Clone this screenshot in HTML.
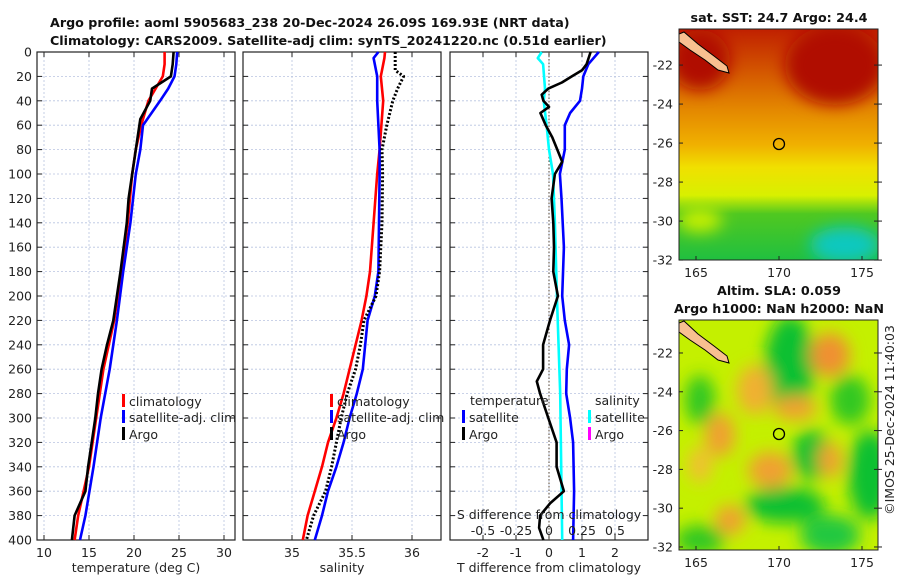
<!DOCTYPE html>
<html><head><meta charset="utf-8"><style>
html,body{margin:0;padding:0;background:#fff;}
svg{display:block;font-family:"DejaVu Sans","Liberation Sans",sans-serif;}
.t{font-size:12.5px;fill:#222;}
.b{font-size:12.7px;font-weight:bold;fill:#111;}
</style></head><body>
<svg id="fig" width="900" height="580" viewBox="0 0 900 580" xmlns="http://www.w3.org/2000/svg">
<defs>
<filter id="blur" x="-20%" y="-20%" width="140%" height="140%"><feGaussianBlur stdDeviation="8"/></filter>
<linearGradient id="sstg" x1="0" y1="0" x2="0" y2="1">
<stop offset="0" stop-color="#c02000"/><stop offset="0.15" stop-color="#d04c00"/><stop offset="0.35" stop-color="#e48800"/>
<stop offset="0.5" stop-color="#f0b000"/><stop offset="0.6" stop-color="#f0e000"/><stop offset="0.72" stop-color="#d8f000"/><stop offset="0.8" stop-color="#50c820"/><stop offset="1" stop-color="#20c040"/>
</linearGradient>
<clipPath id="c1"><rect x="679" y="29" width="199" height="231"/></clipPath>
<clipPath id="c2"><rect x="679" y="320" width="199" height="230"/></clipPath>
</defs>
<text class="b" x="50" y="27">Argo profile: aoml 5905683_238 20-Dec-2024 26.09S 169.93E (NRT data)</text>
<text class="b" x="50" y="45">Climatology: CARS2009. Satellite-adj clim: synTS_20241220.nc (0.51d earlier)</text>
<g id="panels"></g>
<g id="maps">
<g clip-path="url(#c1)">
<rect x="679" y="29" width="199" height="231" fill="url(#sstg)"/>
<g filter="url(#blur)">
<ellipse cx="835" cy="65" rx="50" ry="40" fill="#b00c00"/>
<ellipse cx="700" cy="60" rx="30" ry="30" fill="#b00c00"/>
<ellipse cx="845" cy="245" rx="35" ry="18" fill="#10c8c0"/>
<ellipse cx="700" cy="220" rx="22" ry="12" fill="#c8f000"/>
</g>
<polygon points="679,34 684,32 698,44 714,56 727,66 729,73 718,70 705,60 690,50 679,42" fill="#f8c090" stroke="#000" stroke-width="1"/>
<circle cx="779" cy="144" r="5.5" fill="none" stroke="#000" stroke-width="1.3"/>
</g>
<g clip-path="url(#c2)">
<rect x="679" y="320" width="199" height="230" fill="#c4f000"/>
<g filter="url(#blur)">
<ellipse cx="790" cy="365" rx="25" ry="50" fill="#10c030"/>
<ellipse cx="812" cy="455" rx="20" ry="25" fill="#10c030"/>
<ellipse cx="785" cy="505" rx="40" ry="18" fill="#10c030"/>
<ellipse cx="870" cy="475" rx="22" ry="45" fill="#10c030"/>
<ellipse cx="830" cy="535" rx="30" ry="20" fill="#20c840"/>
<ellipse cx="850" cy="400" rx="20" ry="25" fill="#30c820"/>
<ellipse cx="700" cy="400" rx="15" ry="25" fill="#30c820"/>
<ellipse cx="700" cy="540" rx="25" ry="15" fill="#30c820"/>
<ellipse cx="830" cy="355" rx="20" ry="22" fill="#f09030"/>
<ellipse cx="720" cy="435" rx="15" ry="22" fill="#f0a030"/>
<ellipse cx="755" cy="390" rx="18" ry="25" fill="#f0b030"/>
<ellipse cx="795" cy="408" rx="22" ry="12" fill="#f0a030"/>
<ellipse cx="770" cy="470" rx="22" ry="18" fill="#f0a030"/>
<ellipse cx="830" cy="460" rx="12" ry="18" fill="#f0a030"/>
<ellipse cx="730" cy="520" rx="15" ry="15" fill="#f0a030"/>
<ellipse cx="700" cy="465" rx="12" ry="18" fill="#f0c030"/>
</g>
<polygon points="679,323 684,321 698,334 714,346 727,356 729,363 718,360 705,350 690,340 679,332" fill="#f8c090" stroke="#000" stroke-width="1"/>
<circle cx="779" cy="434" r="5.5" fill="none" stroke="#000" stroke-width="1.3"/>
</g>
<rect x="679" y="29" width="199" height="231" fill="none" stroke="#222" stroke-width="1"/>
<rect x="679" y="320" width="199" height="230" fill="none" stroke="#222" stroke-width="1"/>
<text class="b" x="779" y="22" text-anchor="middle">sat. SST: 24.7 Argo: 24.4</text>
<text class="b" x="779" y="295" text-anchor="middle">Altim. SLA: 0.059</text>
<text class="b" x="779" y="313" text-anchor="middle">Argo h1000: NaN h2000: NaN</text>
<text class="t" transform="translate(894,420) rotate(-90)" text-anchor="middle">©IMOS 25-Dec-2024 11:40:03</text>
<g id="mapticks"></g>
</g>
</svg>
<script>
// ---- data ----
const depthT = [0,10,20,30,40,55,80,100,120,140,180,220,240,260,280,300,320,340,360,370,380,400];
const tempArgo = [24.4,24.3,24.1,22.0,21.8,20.7,20.2,19.8,19.4,19.2,18.5,17.7,17.0,16.4,16.0,15.7,15.3,14.9,14.6,14.0,13.4,13.1];
const depthC = [0,10,20,30,40,60,80,100,140,180,220,260,300,340,380,400];
const tempClim = [23.4,23.4,23.2,22.4,21.6,20.8,20.2,19.8,19.3,18.6,17.8,16.6,15.8,15.0,13.8,13.4];
const tempSat = [24.8,24.7,24.5,23.8,22.9,21.0,20.7,20.2,19.6,18.8,18.1,17.3,16.3,15.5,14.6,14.0];
const depthS = [0,5,20,40,60,80,100,140,180,200,220,240,260,280,300,320,340,360,380,400];
const salClim = [35.775,35.77,35.74,35.76,35.745,35.73,35.71,35.68,35.65,35.62,35.58,35.53,35.48,35.43,35.37,35.30,35.25,35.19,35.13,35.09];
const salSat = [35.72,35.68,35.71,35.71,35.72,35.73,35.73,35.725,35.72,35.69,35.63,35.61,35.59,35.54,35.48,35.43,35.37,35.30,35.25,35.19];
const depthSA = [0,15,20,30,40,60,80,100,140,180,200,220,240,260,280,300,320,340,360,380,400];
const salArgo = [35.86,35.86,35.93,35.88,35.84,35.79,35.75,35.755,35.75,35.73,35.70,35.60,35.57,35.53,35.46,35.41,35.37,35.33,35.28,35.18,35.12];
const depthD = [0,5,10,15,20,25,30,35,40,45,50,60,70,80,90,100,120,140,160,180,200,220,240,260,270,280,300,320,340,360,370,380,390,400];
const dTArgo = [1.26,1.2,1.14,1.0,0.69,0.39,-0.02,-0.22,-0.17,0.0,-0.26,-0.1,0.1,0.25,0.4,0.18,0.08,0.13,0.15,0.13,0.27,0.03,-0.18,-0.18,-0.37,-0.27,-0.02,0.23,0.23,0.45,0.03,-0.27,-0.3,-0.17];
const depthD2 = [0,10,20,30,40,50,60,80,100,120,160,200,220,240,260,280,300,320,360,400];
const dTSat = [1.51,1.19,1.04,1.0,0.94,0.64,0.48,0.48,0.33,0.38,0.45,0.40,0.48,0.61,0.54,0.52,0.64,0.73,0.76,0.73];
const depthD3 = [0,5,10,30,40,60,80,100,140,200,280,400];
const dSSat = [-0.055,-0.085,-0.045,-0.03,-0.04,-0.018,0.0,0.03,0.045,0.06,0.085,0.10];
const depthTicks = [0,20,40,60,80,100,120,140,160,180,200,220,240,260,280,300,320,340,360,380,400];
const tempTicks = [10,15,20,25,30];
const salTicks = [35,35.5,36];
const salTickLabels = ["35","35.5","36"];
const dTTicks = [-2,-1,0,1,2];
const dSTicks = [-0.5,-0.25,0,0.25,0.5];
const dSTickLabels = ["-0.5","-0.25","0","0.25","0.5"];
const latTicks = [-22,-24,-26,-28,-30,-32];
const lonTicks = [165,170,175];

// ---- scales ----
const NS="http://www.w3.org/2000/svg";
const top0=52, bot0=540;
const yD = d => top0 + (bot0-top0)*d/400;
const xT = t => 44 + 9*(t-10);
const xS = s => 292 + 120*(s-35);
const xDT = v => 549 + 33*v;
const xDS = v => 549 + 132*v;
const g = document.getElementById('panels');
function el(tag, attrs, parent){const e=document.createElementNS(NS,tag);for(const k in attrs)e.setAttribute(k,attrs[k]);(parent||g).appendChild(e);return e;}

function panel(x0, name, xt, xs, xlabels, xtitle, leftLabels){
  const p = el('g',{});
  
  
  const w=198;
  depthTicks.forEach(d=>{ if(d>0&&d<400) el('line',{x1:x0,x2:x0+w,y1:yD(d),y2:yD(d),stroke:'#b8c4e0','stroke-width':0.8,'stroke-dasharray':'2,2'},p); });
  xt.forEach(v=>{const x=xs(v); if(x>x0+1&&x<x0+w-1) el('line',{x1:x,x2:x,y1:top0,y2:bot0,stroke:'#b8c4e0','stroke-width':0.8,'stroke-dasharray':'2,2'},p);});
  depthTicks.forEach(d=>{
    el('line',{x1:x0,x2:x0+5,y1:yD(d),y2:yD(d),stroke:'#222'},p);
    el('line',{x1:x0+w-5,x2:x0+w,y1:yD(d),y2:yD(d),stroke:'#222'},p);
    if(leftLabels){const t=el('text',{x:x0-5,y:yD(d)+4.5,'text-anchor':'end','class':'t'},p);t.textContent=d;
      
      }
  });
  xt.forEach((v,i)=>{const x=xs(v);
    el('line',{x1:x,x2:x,y1:bot0,y2:bot0-5,stroke:'#222'},p);
    el('line',{x1:x,x2:x,y1:top0,y2:top0+5,stroke:'#222'},p);
    const t=el('text',{x:x,y:bot0+17,'text-anchor':'middle','class':'t'},p);t.textContent=xlabels[i];
    
    
  });
  el('rect',{x:x0,y:top0,width:w,height:bot0-top0,fill:'none',stroke:'#222','stroke-width':1.2},p);
  const tt=el('text',{x:x0+w/2,y:bot0+32,'text-anchor':'middle','class':'t'},p);tt.textContent=xtitle;
  
  
  return p;
}
function line(p, ds, vs, xs, color, name, dash){
  const pts = ds.map((d,i)=>xs(vs[i]).toFixed(1)+','+yD(d).toFixed(1)).join(' ');
  const l=el('polyline',{points:pts,fill:'none',stroke:color,'stroke-width':dash?3:2.6,'stroke-linejoin':'round'},p);
  if(dash) l.setAttribute('stroke-dasharray',dash);
  
  
}
function legend(p, x, y, color, label, name){
  el('rect',{x:x,y:y-10,width:3,height:13,fill:color},p);
  const t=el('text',{x:x+7,y:y+2,'class':'t'},p);t.textContent=label;
  
  
}

const p1=panel(37,'temperature-panel',tempTicks,xT,tempTicks.map(String),'temperature (deg C)',true);
line(p1,depthC,tempClim,xT,'#ff0000','temp-climatology-line');
line(p1,depthC,tempSat,xT,'#0000ff','temp-satellite-line');
line(p1,depthT,tempArgo,xT,'#000000','temp-argo-line');
legend(p1,122,404,'#ff0000','climatology','legend-climatology');
legend(p1,122,420,'#0000ff','satellite-adj. clim','legend-satellite');
legend(p1,122,437,'#000000','Argo','legend-argo');

const p2=panel(243,'salinity-panel',salTicks,xS,salTickLabels,'salinity',false);
line(p2,depthS,salClim,xS,'#ff0000','sal-climatology-line');
line(p2,depthS,salSat,xS,'#0000ff','sal-satellite-line');
line(p2,depthSA,salArgo,xS,'#000000','sal-argo-line','2,2');
legend(p2,330,404,'#ff0000','climatology','legend-climatology-2');
legend(p2,330,420,'#0000ff','satellite-adj. clim','legend-satellite-2');
legend(p2,330,437,'#000000','Argo','legend-argo-2');

const p3=panel(450,'difference-panel',dTTicks,xDT,dTTicks.map(String),'T difference from climatology',false);
el('line',{x1:xDT(0),x2:xDT(0),y1:top0,y2:bot0,stroke:'#554433','stroke-width':1,'stroke-dasharray':'1.5,2'},p3);
line(p3,depthD3,dSSat,xDS,'#00ffff','sdiff-satellite-line');
line(p3,depthD2,dTSat,xDT,'#0000ff','tdiff-satellite-line');
line(p3,depthD,dTArgo,xDT,'#000000','tdiff-argo-line');
const lt=el('text',{x:470,y:405,'class':'t'},p3);lt.textContent='temperature';


legend(p3,462,420,'#0000ff','satellite','legend-t-satellite');
legend(p3,462,437,'#000000','Argo','legend-t-argo');
const ls=el('text',{x:595,y:405,'class':'t'},p3);ls.textContent='salinity';


legend(p3,588,420,'#00ffff','satellite','legend-s-satellite');
legend(p3,588,437,'#ff00ff','Argo','legend-s-argo');
const sdt=el('text',{x:549,y:519,'text-anchor':'middle','class':'t'},p3);sdt.textContent='S difference from climatology';


dSTicks.forEach((v,i)=>{const t=el('text',{x:xDS(v),y:535,'text-anchor':'middle','class':'t'},p3);t.textContent=dSTickLabels[i];
  
  });

// map ticks
const mt=document.getElementById('mapticks');
const xLon = lo => 696 + 16.6*(lo-165);
[[29,-20.15,19.5,260],[320,-20.3,19.4,550]].forEach(m=>{
  const yLat = la => m[0] + (m[1]-la)*m[2];
  latTicks.forEach(la=>{const y=yLat(la);
    el('line',{x1:679,x2:683,y1:y,y2:y,stroke:'#222'},mt);
    el('line',{x1:874,x2:882,y1:y,y2:y,stroke:'#222'},mt);
    const t=el('text',{x:673,y:y+4.5,'text-anchor':'end','class':'t'},mt);t.textContent=la;
    
    });
  lonTicks.forEach(lo=>{const x=xLon(lo);
    el('line',{x1:x,x2:x,y1:m[3],y2:m[3]-4,stroke:'#222'},mt);
    const t=el('text',{x:x,y:m[3]+17,'text-anchor':'middle','class':'t'},mt);t.textContent=lo;
    
    });
});
</script>
</body></html>
